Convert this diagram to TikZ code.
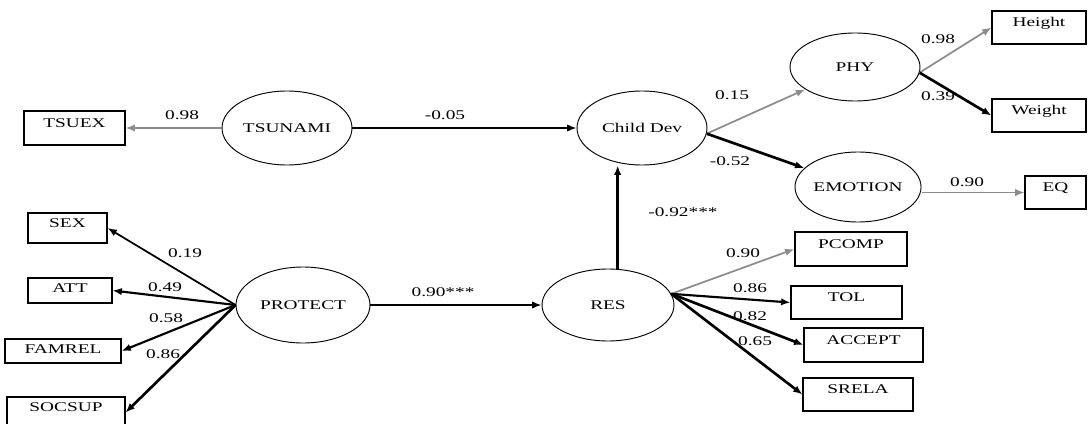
\documentclass[tikz,border=0pt]{standalone}
\usepackage{fontspec}
\setmainfont{Liberation Serif}[FakeStretch=1.45]
\usetikzlibrary{shapes.geometric,arrows.meta}
\definecolor{pathgray}{RGB}{140,140,140}
\begin{document}
\begin{tikzpicture}[x=0.75pt,y=-0.75pt,
        font=\fontsize{10}{12}\selectfont,
        ell/.style 2 args={draw,ellipse,line width=0.7pt,inner sep=0pt,
            minimum width=#1*0.75pt,minimum height=#2*0.75pt},
        box/.style 2 args={draw,rectangle,line width=0.8pt,inner sep=0pt,
            text height=6pt,text depth=7pt,
            minimum width=#1*0.75pt,minimum height=#2*0.75pt},
        path/.style={line width=1.3pt,-{Latex[length=7pt,width=5.5pt]}},
        heavy/.style={path,line width=2pt},
        faint/.style={path,pathgray},
        coef/.style={inner sep=1pt}]
        \useasboundingbox (0,0) rectangle (1091,424);

        % latent variables
        \node[ell={130}{74}] (tsunami)  at (287,128) {TSUNAMI};
        \node[ell={130}{74}] (childdev) at (642,128) {Child Dev};
        \node[ell={130}{68}] (phy)      at (855,67)  {PHY};
        \node[ell={122}{70}] (emotion)  at (858,187) {EMOTION};
        \node[ell={134}{76}] (protect)  at (303,305) {PROTECT};
        \node[ell={132}{72}] (res)      at (608,305) {RES};

        % observed variables
        \node[box={101}{34}] (tsuex)  at (74.5,128)   {TSUEX};
        \node[box={94}{33}]  (height) at (1039,27.5)  {Height};
        \node[box={94}{33}]  (weight) at (1039,115.5) {Weight};
        \node[box={61}{33}]  (eq)     at (1055.5,192.5) {EQ};
        \node[box={79}{30}]  (sex)    at (67.5,228)   {SEX};
        \node[box={84}{25},text depth=3pt] (att)    at (70,290.5) {ATT};
        \node[box={116}{24},text depth=3pt] (famrel) at (63,351)  {FAMREL};
        \node[box={118}{31}] (socsup) at (66,412.5)   {SOCSUP};
        \node[box={112}{34}] (pcomp)  at (851,249)    {PCOMP};
        \node[box={111}{33}] (tol)    at (846.5,302.5) {TOL};
        \node[box={119}{34}] (accept) at (863.5,345)  {ACCEPT};
        \node[box={110}{33}] (srela)  at (858,394.5)  {SRELA};

        % paths
        \draw[faint] (tsunami) -- (tsuex);
        \draw[path] (tsunami) -- (childdev);
        \draw[faint] (childdev.-5) -- (phy);
        \draw[heavy] (childdev.-5) -- (emotion);
        \draw[faint] (phy.-5) -- (height.west);
        \draw[heavy] (phy.-5) -- (weight.west);
        \draw[faint,line width=1pt] (emotion.east |- eq) -- (eq);
        \draw[path] (protect) -- (res);
        \draw[heavy] (res.75) -- (res.75 |- childdev.south);
        \foreach \t/\w in {sex/1.3pt, att/1.6pt, famrel/1.6pt, socsup/2pt} {
            \draw[path,line width=\w] (protect.west) -- (\t.east);
        }
        \draw[faint] (res.10) -- (pcomp.west);
        \foreach \t/\w in {tol/1.6pt, accept/2pt, srela/2pt} {
            \draw[path,line width=\w] (res.10) -- (\t.west);
        }

        % coefficients
        \foreach \n/\x/\y/\v in {c1/182/115/0.98, c2/445/115/-0.05, c3/732/95/0.15,
            c4/730/161/-0.52, c5/683/212/-0.92***, c6/938/39/0.98, c7/938/96/0.39,
            c8/967/182/0.90, c9/185/253/0.19, c10/165/287/0.49, c11/166/318/0.58,
            c12/163/354/0.86, c13/443/292/0.90***, c14/743/253/0.90,
            c15/750/288/0.86, c16/750/316/0.82, c17/755/341/0.65} {
            \node[coef] (\n) at (\x,\y) {\v};
        }
    \end{tikzpicture}
\end{document}
